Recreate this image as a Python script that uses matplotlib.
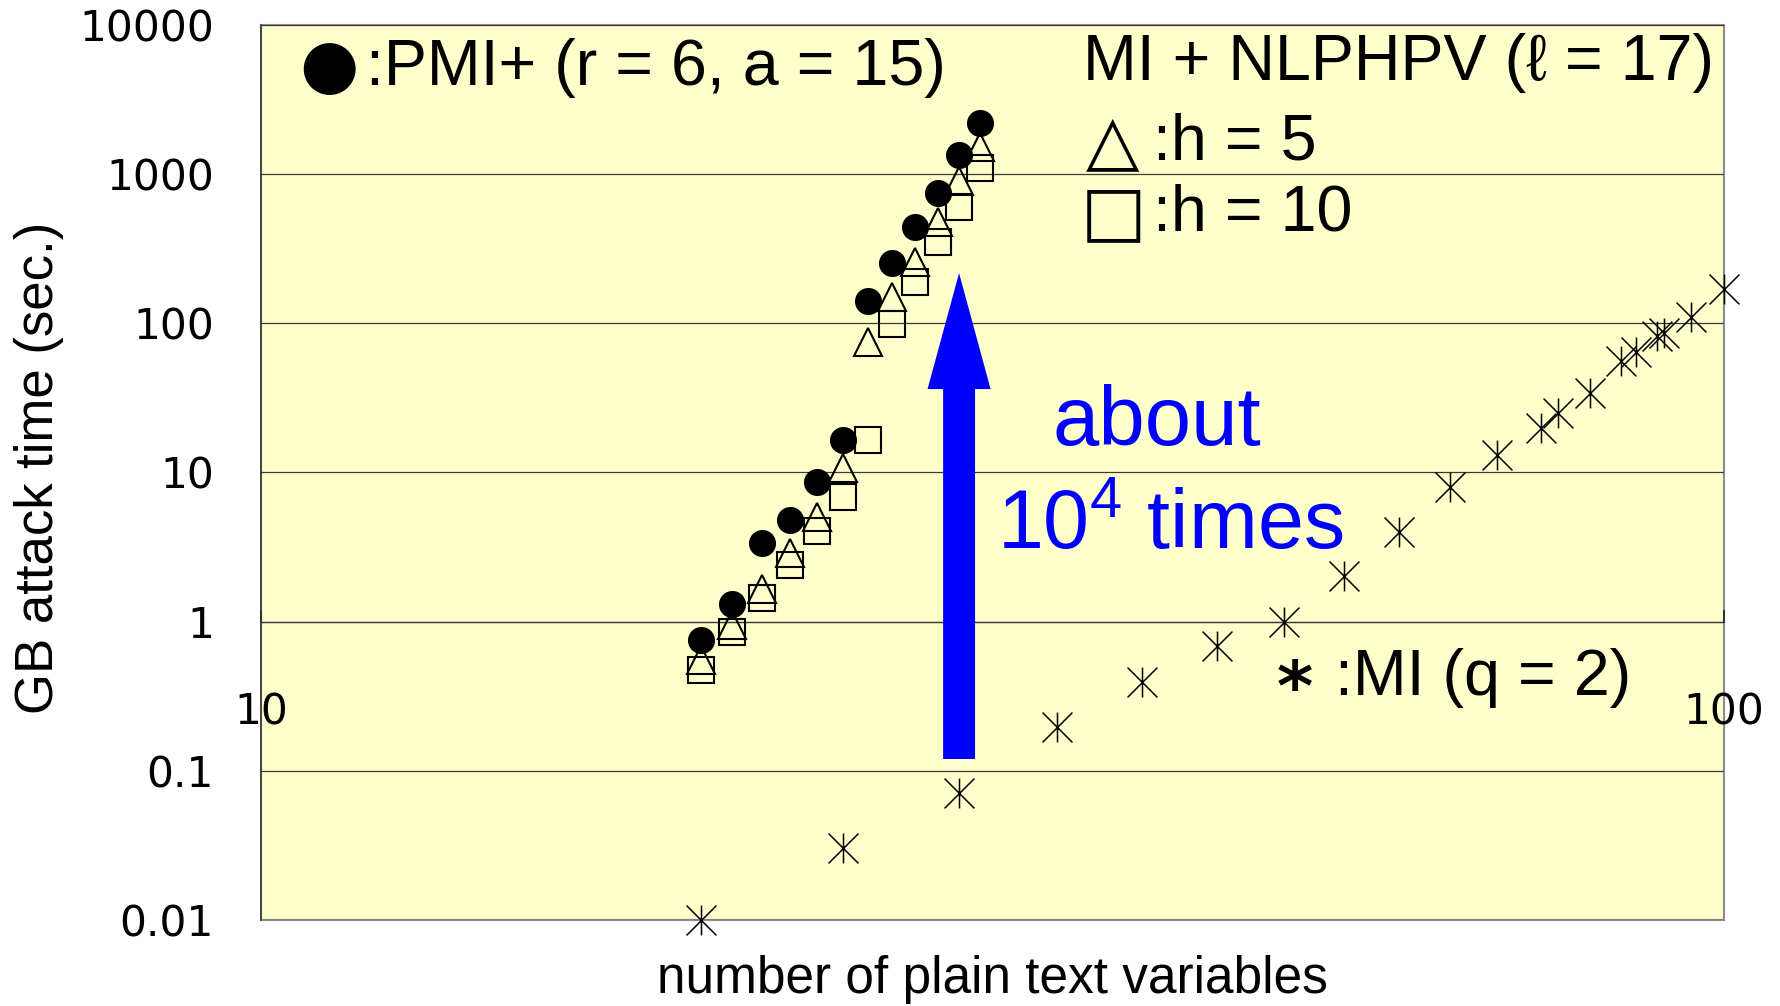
import matplotlib
matplotlib.use("Agg")
import matplotlib.pyplot as plt
from matplotlib.path import Path
from matplotlib.patches import FancyArrowPatch, ArrowStyle
from matplotlib.ticker import NullLocator

# === DATOS ===
n_pmi = [20, 21, 22, 23, 24, 25, 26, 27, 28, 29, 30, 31]
t_pmi = [0.75, 1.31, 3.35, 4.8, 8.6, 16.5, 142, 255, 444, 750, 1343, 2190]

n_h5 = [20, 21, 22, 23, 24, 25, 26, 27, 28, 29, 30, 31]
t_h5 = [0.55, 0.95, 1.66, 2.89, 5.0, 10.7, 75, 150, 259, 475, 903, 1510]

n_h10 = [20, 21, 22, 23, 24, 25, 26, 27, 28, 29, 30, 31]
t_h10 = [0.474, 0.85, 1.43, 2.41, 4.04, 6.85, 16.4, 98.5, 189, 351, 604, 1094]

n_mi = [20, 25, 30, 35, 40, 45, 50, 55, 60, 65, 70, 75, 77, 81, 85, 87, 90, 91, 95, 100]
t_mi = [0.01, 0.0303, 0.0708, 0.198, 0.396, 0.687, 1.0, 2.02, 4.0, 7.96,
        13.0, 19.8, 24.9, 34.3, 55.9, 63.9, 82.2, 85.7, 110.7, 169]

y_ticks = [0.01, 0.1, 1, 10, 100, 1000, 10000]
y_tick_labels = ["0.01", "0.1", "1", "10", "100", "1000", "10000"]
x_ticks = [10, 100]
x_tick_labels = ["10", "100"]

# flecha "about 10^4 times"
flecha_x = 30
flecha_desde = 0.12
flecha_hasta = 217

# === ESTILO ===
plt.rcParams['font.family'] = ['Liberation Sans', 'DejaVu Sans']
plt.rcParams['mathtext.fontset'] = 'custom'
plt.rcParams['mathtext.rm'] = 'Liberation Sans'
plt.rcParams['mathtext.it'] = 'Liberation Sans'

fondo = '#ffffcc'
azul = '#0000ff'

# marcador asterisco de 6 brazos (como Excel)
asterisco = Path([(0, -1), (0, 1), (-1, -1), (1, 1), (-1, 1), (1, -1)],
                 [Path.MOVETO, Path.LINETO] * 3)

fig = plt.figure(figsize=(17.81, 10.06), dpi=100)
ax = fig.add_axes([0.1466, 0.0855, 0.8214, 0.8897])
ax.set_xscale('log')
ax.set_yscale('log')
ax.set_xlim(10, 100)
ax.set_ylim(0.01, 10000)
ax.patch.set_facecolor(fondo)
ax.patch.set_edgecolor('#8c8c8c')
ax.patch.set_linewidth(1.5)

# === SERIES ===
ax.plot(n_h10, t_h10, linestyle='none', marker='s', ms=18.5, mfc='none',
        mec='black', mew=1.5, clip_on=False, zorder=3)
ax.plot(n_h5, t_h5, linestyle='none', marker='^', ms=20, mfc='none',
        mec='black', mew=1.5, clip_on=False, zorder=3.1)
ax.plot(n_pmi, t_pmi, linestyle='none', marker='o', ms=19.5, mfc='black',
        mec='black', mew=0, clip_on=False, zorder=3.2)
ax.plot(n_mi, t_mi, linestyle='none', marker=asterisco, ms=21.5, mfc='none',
        mec='black', mew=1.1, clip_on=False, zorder=3.3)

# === FLECHA AZUL ===
flecha = FancyArrowPatch(posA=(flecha_x, flecha_desde), posB=(flecha_x, flecha_hasta),
                         arrowstyle=ArrowStyle.Simple(head_length=83.5, head_width=45.4,
                                                      tail_width=23),
                         mutation_scale=1, shrinkA=0, shrinkB=0,
                         facecolor=azul, edgecolor='none', linewidth=0, zorder=4)
ax.add_patch(flecha)

# === EJES ===
ax.set_yticks(y_ticks, labels=y_tick_labels)
ax.set_xticks(x_ticks, labels=x_tick_labels)
ax.xaxis.set_minor_locator(NullLocator())
ax.yaxis.set_minor_locator(NullLocator())
ax.grid(axis='y', which='major', color='#3a3a3a', linewidth=0.9, zorder=1)
ax.set_axisbelow(True)

for lado in ['top', 'right']:
    ax.spines[lado].set_visible(False)
ax.spines['left'].set_color('#333333')
ax.spines['left'].set_linewidth(1.1)
ax.spines['bottom'].set_position(('data', 1))
ax.spines['bottom'].set_color('#3a3a3a')
ax.spines['bottom'].set_linewidth(0.9)

ax.tick_params(axis='y', length=0, pad=34, labelsize=30.5)
ax.tick_params(axis='x', direction='in', length=9, width=1.2, color='#222222',
               pad=50, labelsize=30.5)
for lbl in ax.get_yticklabels() + ax.get_xticklabels():
    lbl.set_fontfamily('DejaVu Sans')

ax.set_xlabel('number of plain text variables', fontsize=37)
ax.xaxis.set_label_coords(0.5, -0.039)
ax.set_ylabel('GB attack time (sec.)', fontsize=38)
ax.yaxis.set_label_coords(-0.135, 0.505)

# === TEXTOS / LEYENDA ===
ax.text(0.0465, 0.952, '●', transform=ax.transAxes, fontsize=49,
        family='DejaVu Sans', ha='center', va='center', zorder=5)
ax.text(0.0718, 0.952, ':PMI+ (r = 6, a = 15)', transform=ax.transAxes,
        fontsize=46.5, ha='left', va='center', zorder=5)

ax.text(0.562, 0.958, 'MI + NLPHPV (ℓ = 17)', transform=ax.transAxes,
        fontsize=46.5, ha='left', va='center', zorder=5)
ax.text(0.582, 0.869, '△', transform=ax.transAxes, fontsize=50,
        family='DejaVu Sans', ha='center', va='center', zorder=5)
ax.text(0.6097, 0.869, ':h = 5', transform=ax.transAxes,
        fontsize=46.5, ha='left', va='center', zorder=5)
ax.text(0.583, 0.789, '□', transform=ax.transAxes, fontsize=50,
        family='DejaVu Sans', ha='center', va='center', zorder=5)
ax.text(0.6097, 0.789, ':h = 10', transform=ax.transAxes,
        fontsize=46.5, ha='left', va='center', zorder=5)

ax.text(0.7067, 0.256, '*', transform=ax.transAxes, fontsize=50,
        family='DejaVu Sans', fontweight='bold', ha='center', va='center', zorder=5)
ax.text(0.7338, 0.270, ':MI (q = 2)', transform=ax.transAxes,
        fontsize=46.5, ha='left', va='center', zorder=5)

ax.text(0.541, 0.531, 'about', transform=ax.transAxes, fontsize=60,
        color=azul, ha='left', va='baseline', zorder=5)
ax.text(0.503, 0.415, '10$^{4}$ times', transform=ax.transAxes, fontsize=59.5,
        color=azul, ha='left', va='baseline', zorder=5)

fig.savefig('out.png', dpi=100)
